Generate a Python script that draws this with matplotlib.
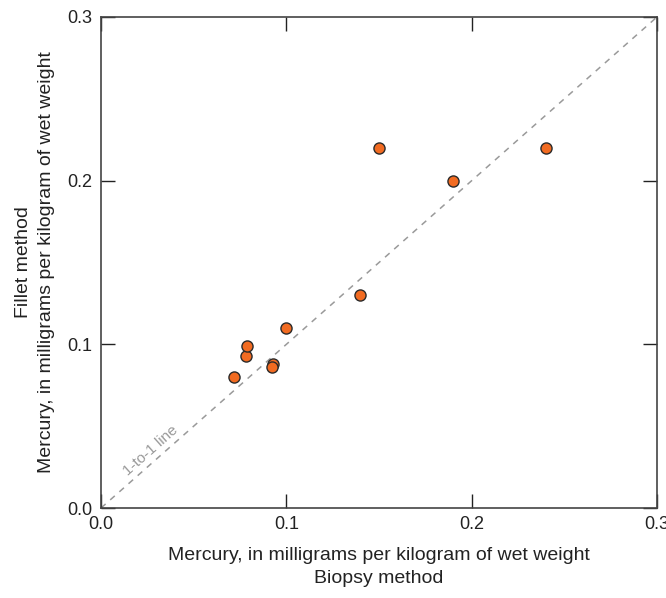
import matplotlib
matplotlib.use("Agg")
import matplotlib.pyplot as plt
from matplotlib import font_manager

# Mercury concentrations (mg/kg wet weight)
biopsy = [0.072, 0.078, 0.079, 0.093, 0.092, 0.100, 0.140, 0.150, 0.190, 0.240]
fillet = [0.080, 0.093, 0.099, 0.088, 0.086, 0.110, 0.130, 0.220, 0.200, 0.220]
ticks = [0.0, 0.1, 0.2, 0.3]
tick_labels = ["0.0", "0.1", "0.2", "0.3"]

names = {f.name for f in font_manager.fontManager.ttflist}
family = "Liberation Sans Narrow" if "Liberation Sans Narrow" in names else "Liberation Sans"
plt.rcParams["font.family"] = [family, "DejaVu Sans"]

fig = plt.figure(figsize=(6.66, 5.98), dpi=100)
ax = fig.add_axes([0.1517, 0.1505, 0.8348, 0.8211])

ax.plot([0, 0.3], [0, 0.3], ls=(0, (4, 4)), color="#9a9a9a", lw=1.1, zorder=1)
ax.text(0.027, 0.0348, "1-to-1 line", rotation=41.5, rotation_mode="anchor",
        ha="center", va="center", color="#9a9a9a", fontsize=11)

ax.scatter(biopsy, fillet, s=64, color="#f26b21", edgecolor="#2a2a2a",
           linewidth=1.0, zorder=3)

ax.set_xlim(0, 0.3)
ax.set_ylim(0, 0.3)
ax.set_xticks(ticks)
ax.set_xticklabels(tick_labels)
ax.set_yticks(ticks)
ax.set_yticklabels(tick_labels)
ax.tick_params(direction="in", length=10, width=1, top=True, right=True,
               labelsize=13, colors="#222222", pad=6)
for sp in ax.spines.values():
    sp.set_linewidth(1.2)
    sp.set_color("#444444")

ax.set_xlabel("Mercury, in milligrams per kilogram of wet weight\nBiopsy method",
              fontsize=14, color="#222222", labelpad=10, linespacing=1.45)
ax.set_ylabel("Fillet method\nMercury, in milligrams per kilogram of wet weight",
              fontsize=14, color="#222222", labelpad=9, linespacing=1.45)

fig.savefig("out.png", dpi=100)
